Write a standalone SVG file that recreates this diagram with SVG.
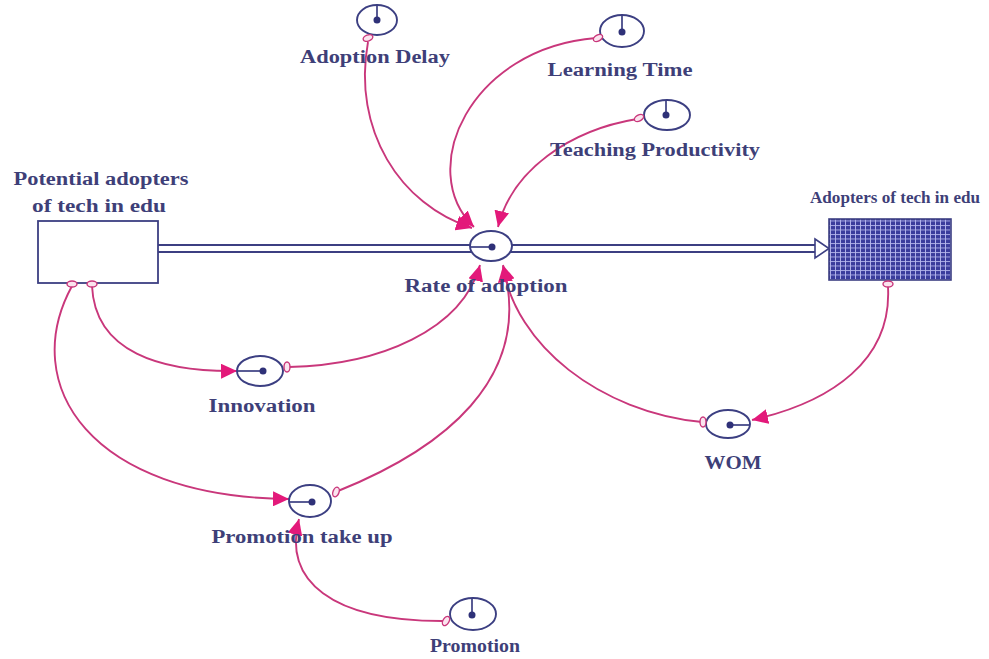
<svg xmlns="http://www.w3.org/2000/svg" width="989" height="659" viewBox="0 0 989 659">
<style>
.lbl{font-family:"Liberation Serif","Times New Roman",serif;font-weight:bold;font-size:18.5px;fill:#3e3f78}
.conv{fill:#fff;stroke:#3c3f82;stroke-width:1.9}
.ptr{stroke:#3c3f82;stroke-width:1.7;fill:none}
.dot{fill:#2f3178}
.link{fill:none;stroke:#c9377b;stroke-width:1.9;marker-end:url(#ah)}
.tap{fill:#fbe3ee;stroke:#c9377b;stroke-width:1.4}
.pipe{stroke:#3c3f82;stroke-width:1.8}
</style>
<defs>
<marker id="ah" markerUnits="userSpaceOnUse" markerWidth="17" markerHeight="15" refX="16" refY="7.5" orient="auto">
<path d="M0,0 L16,7.5 L0,15 z" fill="#e3197a"/>
</marker>
<pattern id="grid" width="5" height="4.5" patternUnits="userSpaceOnUse">
<rect width="5" height="4.5" fill="#3a3c9c"/>
<path d="M0,0.5 H5 M0.5,0 V4.5" stroke="#b4b6ec" stroke-width="0.9"/>
</pattern>
</defs>
<rect width="989" height="659" fill="#fff"/>

<g id="flow">
<rect x="158" y="245" width="657" height="7" fill="#fff"/>
<line class="pipe" x1="158" y1="245" x2="816" y2="245"/>
<line class="pipe" x1="158" y1="252" x2="816" y2="252"/>
<path d="M815,239 L829,248.5 L815,258 z" fill="#fff" stroke="#3c3f82" stroke-width="1.6"/>
</g>

<g id="connectors">
<path class="link" d="M368,42 C352,130 400,205 472,228"/>
<path class="link" d="M596,38 C470,48 415,170 474,227"/>
<path class="link" d="M637,119 C570,130 512,170 498,227"/>
<path class="link" d="M289,367 C380,365 462,330 480,265"/>
<path class="link" d="M338,491 C440,450 535,380 503,265"/>
<path class="link" d="M702,422 C600,412 515,345 503,266"/>
<path class="link" d="M888,287 C892,360 832,402 752,420"/>
<path class="link" d="M92,286 C95,352 160,372 237,371"/>
<path class="link" d="M72,286 C18,385 90,497 289,499"/>
<path class="link" d="M446,621 C330,622 283,580 299,519"/>
</g>

<g id="potential-adopters">
<rect x="38" y="221" width="120" height="62" fill="#fff" stroke="#3c3f82" stroke-width="1.8"/>
<ellipse class="tap" cx="72" cy="284" rx="5" ry="3"/>
<ellipse class="tap" cx="92" cy="284" rx="5" ry="3"/>
<text class="lbl" x="101" y="185" text-anchor="middle" textLength="175" lengthAdjust="spacingAndGlyphs">Potential adopters</text>
<text class="lbl" x="99" y="212" text-anchor="middle" textLength="134" lengthAdjust="spacingAndGlyphs">of tech in edu</text>
</g>

<g id="adopters">
<rect x="829" y="219" width="122" height="61" fill="url(#grid)" stroke="#3c3f82" stroke-width="1.6"/>
<ellipse class="tap" cx="888" cy="284" rx="5" ry="3"/>
<text class="lbl" x="895" y="203" text-anchor="middle" style="font-size:17px" textLength="170" lengthAdjust="spacingAndGlyphs">Adopters of tech in edu</text>
</g>

<g id="rate-of-adoption">
<ellipse class="conv" cx="491" cy="246" rx="21" ry="15"/>
<line class="ptr" x1="470" y1="247" x2="492" y2="247"/>
<circle class="dot" cx="492" cy="247" r="3.5"/>
<text class="lbl" x="486" y="292" text-anchor="middle" textLength="163" lengthAdjust="spacingAndGlyphs">Rate of adoption</text>
</g>

<g id="adoption-delay">
<ellipse class="conv" cx="377" cy="20" rx="20" ry="15"/>
<line class="ptr" x1="377" y1="5" x2="377" y2="20"/>
<circle class="dot" cx="377" cy="20" r="3.5"/>
<ellipse class="tap" cx="368" cy="38" rx="5" ry="3" transform="rotate(-20 368 38)"/>
<text class="lbl" x="375" y="63" text-anchor="middle" textLength="150" lengthAdjust="spacingAndGlyphs">Adoption Delay</text>
</g>

<g id="learning-time">
<ellipse class="conv" cx="622" cy="31" rx="22" ry="16"/>
<line class="ptr" x1="622" y1="15" x2="622" y2="32"/>
<circle class="dot" cx="622" cy="32" r="3.5"/>
<ellipse class="tap" cx="598" cy="38" rx="5" ry="3" transform="rotate(-30 598 38)"/>
<text class="lbl" x="620" y="76" text-anchor="middle" textLength="145" lengthAdjust="spacingAndGlyphs">Learning Time</text>
</g>

<g id="teaching-productivity">
<ellipse class="conv" cx="667" cy="115" rx="23" ry="15"/>
<line class="ptr" x1="666" y1="100" x2="666" y2="115"/>
<circle class="dot" cx="666" cy="115" r="3.5"/>
<ellipse class="tap" cx="639" cy="118" rx="5" ry="3" transform="rotate(-30 639 118)"/>
<text class="lbl" x="655" y="156" text-anchor="middle" textLength="210" lengthAdjust="spacingAndGlyphs">Teaching Productivity</text>
</g>

<g id="innovation">
<ellipse class="conv" cx="260" cy="371" rx="23" ry="15"/>
<line class="ptr" x1="237" y1="371" x2="263" y2="371"/>
<circle class="dot" cx="263" cy="371" r="3.5"/>
<ellipse class="tap" cx="287" cy="367" rx="3" ry="5"/>
<text class="lbl" x="262" y="412" text-anchor="middle" textLength="107" lengthAdjust="spacingAndGlyphs">Innovation</text>
</g>

<g id="wom">
<ellipse class="conv" cx="728" cy="424" rx="22" ry="14"/>
<line class="ptr" x1="730" y1="425" x2="750" y2="425"/>
<circle class="dot" cx="730" cy="425" r="3.5"/>
<ellipse class="tap" cx="703" cy="422" rx="3" ry="5"/>
<text class="lbl" x="733" y="469" text-anchor="middle" textLength="57" lengthAdjust="spacingAndGlyphs">WOM</text>
</g>

<g id="promotion-take-up">
<ellipse class="conv" cx="310" cy="501" rx="21" ry="16"/>
<line class="ptr" x1="289" y1="502" x2="312" y2="502"/>
<circle class="dot" cx="312" cy="502" r="3.5"/>
<ellipse class="tap" cx="336" cy="492" rx="3" ry="5" transform="rotate(20 336 492)"/>
<text class="lbl" x="302" y="543" text-anchor="middle" textLength="181" lengthAdjust="spacingAndGlyphs">Promotion take up</text>
</g>

<g id="promotion">
<ellipse class="conv" cx="473" cy="614" rx="23" ry="16"/>
<line class="ptr" x1="472" y1="598" x2="472" y2="615"/>
<circle class="dot" cx="472" cy="615" r="3.5"/>
<ellipse class="tap" cx="446" cy="621" rx="3" ry="5" transform="rotate(30 446 621)"/>
<text class="lbl" x="475" y="652" text-anchor="middle" textLength="90" lengthAdjust="spacingAndGlyphs">Promotion</text>
</g>
</svg>
